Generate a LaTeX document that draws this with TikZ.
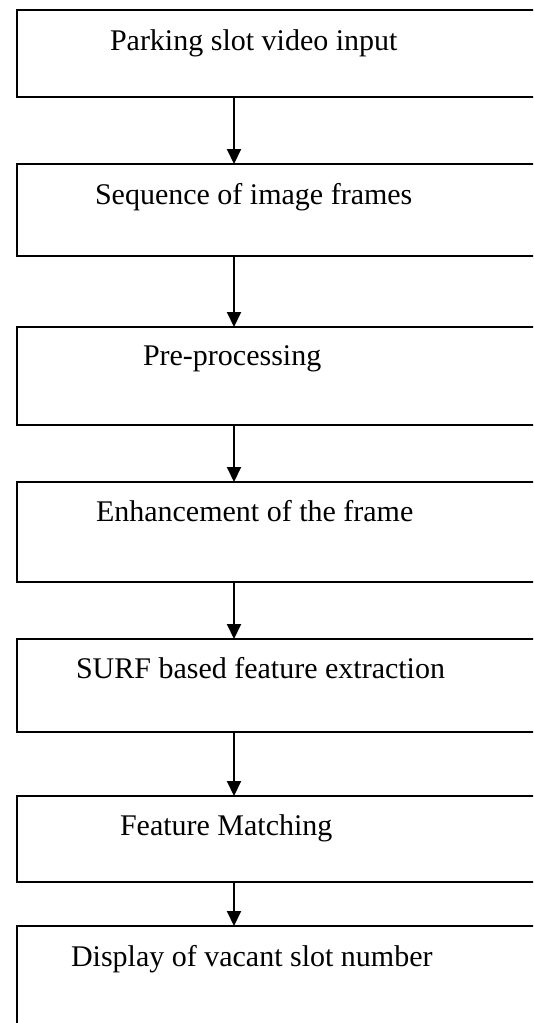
\documentclass[tikz,border=0pt]{standalone}
\usepackage{fontspec}
\setmainfont{Liberation Serif}
\usetikzlibrary{arrows.meta}
\begin{document}
\begin{tikzpicture}[x=1pt, y=-1pt,
  stagebox/.style={draw=black, line width=2pt, rectangle, anchor=north west,
    inner sep=0pt, outer sep=0pt, minimum width=540pt},
  stagelabel/.style={anchor=base west, inner sep=0pt, outer sep=0pt,
    font=\fontsize{30}{36}\selectfont},
  flow/.style={line width=2pt, -{Triangle[width=14pt,length=15pt]}}]
  \useasboundingbox (0,0) rectangle (533,1023);
  \clip (0,0) rectangle (533,1023);

  % process stages
  \node[stagebox, minimum height=87pt]  (b1) at (17,10)  {};
  \node[stagebox, minimum height=92pt]  (b2) at (17,164) {};
  \node[stagebox, minimum height=98pt]  (b3) at (17,327) {};
  \node[stagebox, minimum height=100pt] (b4) at (17,482) {};
  \node[stagebox, minimum height=93pt]  (b5) at (17,639) {};
  \node[stagebox, minimum height=86pt]  (b6) at (17,796) {};
  \node[stagebox, minimum height=130pt] (b7) at (17,926) {};

  % stage captions
  \node[stagelabel] (t1) at (110,50)  {Parking slot video input};
  \node[stagelabel] (t2) at (95,204)  {Sequence of image frames};
  \node[stagelabel] (t3) at (143,365) {Pre-processing};
  \node[stagelabel] (t4) at (96,521)  {Enhancement of the frame};
  \node[stagelabel] (t5) at (76,678)  {SURF based feature extraction};
  \node[stagelabel] (t6) at (120,835) {Feature Matching};
  \node[stagelabel] (t7) at (71,966)  {Display of vacant slot number};

  % flow arrows on a common vertical axis
  \coordinate (ax) at (234,0);
  \draw[flow] (b1.south -| ax) -- (b2.north -| ax);
  \draw[flow] (b2.south -| ax) -- (b3.north -| ax);
  \draw[flow] (b3.south -| ax) -- (b4.north -| ax);
  \draw[flow] (b4.south -| ax) -- (b5.north -| ax);
  \draw[flow] (b5.south -| ax) -- (b6.north -| ax);
  \draw[flow] (b6.south -| ax) -- (b7.north -| ax);
\end{tikzpicture}
\end{document}
